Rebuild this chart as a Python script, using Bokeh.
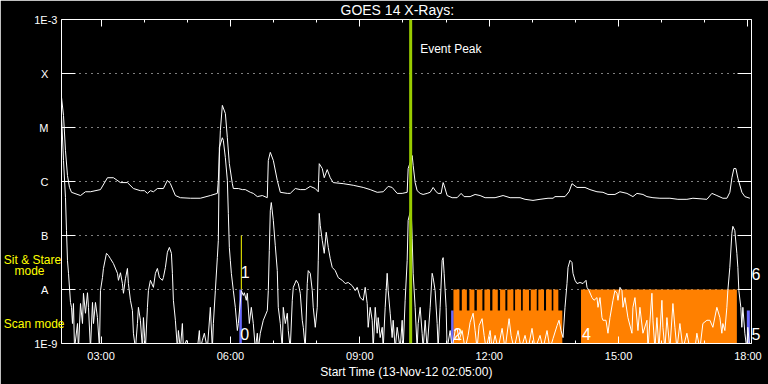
from bokeh.plotting import figure
from bokeh.models import (Range1d, LinearAxis, FixedTicker, Span, Label, LabelSet,
                          ColumnDataSource, CustomJSTickFormatter)
from bokeh.core.properties import value
from bokeh.embed import file_html
from bokeh.resources import INLINE

# ---------------- data ----------------
# time in hours UT (13-Nov-2012), flux as log10(W/m^2)
t_start = 2 + 5 / 60
t_end = 18 + 5 / 60

decade_vals = [-9, -8, -7, -6, -5, -4, -3]
decade_text = ["1E-9", "A", "B", "C", "M", "X", "1E-3"]
grid_vals = [-8, -7, -6, -5, -4]

hour_ticks = [3, 6, 9, 12, 15, 18]
hour_text = ["03:00", "06:00", "09:00", "12:00", "15:00", "18:00"]
minor_hours = list(range(3, 19))

# GOES long channel (1-8 A)
long_t = [2.083, 2.130, 2.176, 2.222, 2.269, 2.315, 2.524, 2.639, 2.755, 2.987,
          3.149, 3.288, 3.450, 3.612, 3.751, 3.913, 4.006, 4.076, 4.145, 4.215,
          4.307, 4.446, 4.539, 4.608, 4.724, 4.840, 5.072, 5.303, 5.535, 5.697,
          5.720, 5.767, 5.813, 5.883, 5.929, 5.975, 6.045, 6.068, 6.184, 6.276,
          6.346, 6.462, 6.531, 6.624, 6.740, 6.855, 6.879, 6.925, 6.995, 7.087,
          7.157, 7.319, 7.388, 7.504, 7.620, 7.736, 7.851, 7.967, 8.037, 8.060,
          8.130, 8.176, 8.245, 8.315, 8.384, 8.616, 8.848, 9.079, 9.242, 9.404,
          9.543, 9.659, 9.751, 9.867, 9.983, 10.099, 10.122, 10.168, 10.215, 10.238,
          10.284, 10.330, 10.400, 10.469, 10.562, 10.632, 10.701, 10.770, 10.817, 10.886,
          10.933, 10.956, 11.025, 11.141, 11.257, 11.350, 11.419, 11.558, 11.674, 11.790,
          11.906, 12.137, 12.323, 12.485, 12.716, 12.832, 13.017, 13.180, 13.365, 13.481,
          13.527, 13.759, 13.852, 13.921, 14.037, 14.222, 14.338, 14.500, 14.639, 14.755,
          14.917, 15.033, 15.195, 15.334, 15.427, 15.566, 15.659, 15.798, 15.960, 16.192,
          16.377, 16.586, 16.725, 17.049, 17.165, 17.281, 17.420, 17.513, 17.582, 17.629,
          17.675, 17.721, 17.768, 17.860, 17.930, 18.046]
long_f = [-4.44, -4.78, -5.43, -5.89, -6.11, -6.20, -6.26, -6.19, -6.19, -6.15,
          -5.93, -5.93, -6.02, -6.02, -6.13, -6.17, -6.17, -6.22, -6.17, -6.19,
          -6.13, -6.13, -5.98, -6.04, -6.26, -6.30, -6.31, -6.31, -6.26, -6.22,
          -5.98, -5.06, -4.59, -4.74, -5.19, -5.67, -6.04, -6.13, -6.13, -6.15,
          -6.15, -6.20, -6.22, -6.28, -6.26, -6.30, -5.61, -5.46, -5.61, -5.98,
          -6.20, -6.22, -6.22, -6.13, -6.15, -6.15, -6.09, -6.13, -6.19, -5.67,
          -5.76, -5.93, -5.78, -5.93, -6.02, -6.04, -6.07, -6.11, -6.15, -6.20,
          -6.19, -6.09, -6.11, -6.22, -6.22, -6.20, -5.76, -5.65, -5.52, -5.70,
          -6.02, -6.17, -6.22, -6.24, -6.22, -6.20, -6.11, -6.19, -6.22, -6.22,
          -6.02, -6.07, -6.26, -6.30, -6.30, -6.22, -6.28, -6.28, -6.24, -6.26,
          -6.30, -6.30, -6.26, -6.30, -6.30, -6.33, -6.35, -6.33, -6.31, -6.31,
          -6.28, -6.28, -6.19, -6.04, -6.11, -6.11, -6.15, -6.19, -6.20, -6.24,
          -6.24, -6.19, -6.22, -6.28, -6.22, -6.24, -6.28, -6.30, -6.31, -6.31,
          -6.33, -6.33, -6.31, -6.33, -6.22, -6.26, -6.31, -6.31, -6.20, -5.93,
          -5.76, -5.76, -5.94, -6.20, -6.28, -6.31]

# GOES short channel (0.5-4 A); values below 1E-9 fall off the bottom of the plot
short_t = [2.083, 2.130, 2.176, 2.199, 2.222, 2.246, 2.292, 2.315, 2.338, 2.361,
           2.385, 2.454, 2.477, 2.524, 2.570, 2.593, 2.639, 2.686, 2.709, 2.755,
           2.802, 2.825, 2.871, 2.917, 2.964, 2.987, 3.033, 3.056, 3.126, 3.172,
           3.219, 3.288, 3.381, 3.404, 3.450, 3.496, 3.520, 3.566, 3.612, 3.635,
           3.682, 3.728, 3.751, 3.798, 3.844, 3.867, 3.913, 3.960, 3.983, 4.029,
           4.076, 4.099, 4.145, 4.215, 4.261, 4.307, 4.354, 4.423, 4.446, 4.493,
           4.539, 4.585, 4.632, 4.655, 4.678, 4.724, 4.771, 4.794, 4.840, 4.886,
           4.910, 4.979, 5.072, 5.234, 5.280, 5.303, 5.350, 5.396, 5.466, 5.535,
           5.581, 5.605, 5.651, 5.697, 5.720, 5.744, 5.813, 5.836, 5.883, 5.929,
           5.952, 5.975, 5.998, 6.022, 6.068, 6.114, 6.161, 6.184, 6.253, 6.300,
           6.323, 6.369, 6.392, 6.439, 6.485, 6.531, 6.578, 6.624, 6.647, 6.693,
           6.763, 6.856, 6.879, 6.902, 6.925, 6.948, 6.995, 7.041, 7.087, 7.110,
           7.157, 7.203, 7.226, 7.273, 7.319, 7.342, 7.388, 7.435, 7.458, 7.527,
           7.574, 7.620, 7.666, 7.690, 7.736, 7.782, 7.805, 7.852, 7.898, 7.921,
           7.968, 8.014, 8.037, 8.060, 8.083, 8.130, 8.176, 8.222, 8.269, 8.315,
           8.361, 8.431, 8.500, 8.593, 8.663, 8.732, 8.825, 8.894, 8.940, 9.010,
           9.080, 9.126, 9.172, 9.195, 9.242, 9.288, 9.311, 9.358, 9.404, 9.427,
           9.473, 9.520, 9.543, 9.589, 9.635, 9.659, 9.705, 9.751, 9.774, 9.821,
           9.867, 9.937, 9.983, 10.006, 10.052, 10.099, 10.122, 10.191, 10.215, 10.238,
           10.284, 10.330, 10.354, 10.400, 10.446, 10.469, 10.516, 10.562, 10.632, 10.678,
           10.701, 10.747, 10.794, 10.817, 10.863, 10.910, 10.933, 10.956, 11.002, 11.025,
           11.095, 11.141, 11.211, 11.257, 11.303, 11.373, 11.442, 11.512, 11.558, 11.628,
           11.674, 11.720, 11.767, 11.836, 11.883, 11.929, 12.022, 12.068, 12.137, 12.207,
           12.300, 12.369, 12.462, 12.508, 12.578, 12.670, 12.740, 12.832, 12.902, 12.994,
           13.064, 13.180, 13.249, 13.342, 13.411, 13.481, 13.574, 13.620, 13.666, 13.713,
           13.759, 13.805, 13.829, 13.875, 13.921, 13.944, 13.991, 14.037, 14.107, 14.176,
           14.246, 14.269, 14.315, 14.385, 14.431, 14.500, 14.524, 14.570, 14.616, 14.639,
           14.709, 14.755, 14.802, 14.871, 14.917, 14.964, 14.987, 15.033, 15.080, 15.103,
           15.149, 15.218, 15.311, 15.334, 15.381, 15.450, 15.496, 15.566, 15.659, 15.682,
           15.774, 15.798, 15.844, 15.890, 15.937, 16.006, 16.029, 16.076, 16.122, 16.191,
           16.261, 16.307, 16.354, 16.423, 16.493, 16.585, 16.655, 16.771, 16.817, 16.886,
           16.956, 17.049, 17.118, 17.188, 17.280, 17.350, 17.396, 17.419, 17.466, 17.512,
           17.535, 17.581, 17.628, 17.651, 17.697, 17.744, 17.767, 17.790, 17.836, 17.859,
           17.883, 17.929, 17.975, 17.998, 18.045]
short_f = [-4.78, -5.61, -6.30, -6.91, -7.46, -7.70, -8.24, -8.33, -8.63, -8.26,
           -9.1, -8.63, -9.1, -8.26, -8.63, -8.07, -8.44, -8.06, -8.33, -9.1,
           -8.24, -8.63, -8.24, -8.52, -9.1, -8.02, -7.78, -7.61, -7.33, -7.37,
           -7.43, -7.52, -7.70, -7.83, -7.69, -7.89, -8.07, -7.80, -7.61, -7.89,
           -8.20, -8.39, -8.81, -9.1, -8.63, -8.33, -8.57, -9.1, -8.52, -9.1,
           -8.33, -8.02, -7.83, -7.96, -7.70, -7.61, -7.78, -7.83, -7.78, -7.59,
           -7.31, -7.22, -7.33, -7.70, -8.20, -8.57, -9.1, -8.76, -9.1, -8.63,
           -9.1, -8.94, -9.1, -9.1, -8.76, -9.1, -8.94, -8.81, -9.1, -8.33,
           -9.1, -8.63, -8.02, -7.41, -7.09, -5.37, -5.19, -5.24, -5.56, -5.98,
           -6.59, -7.22, -7.46, -7.70, -8.02, -8.33, -8.76, -8.63, -8.02, -8.11,
           -8.06, -8.20, -8.07, -8.63, -8.33, -8.63, -9.1, -8.81, -9.1, -8.81,
           -8.57, -8.39, -8.02, -7.28, -6.54, -6.39, -6.72, -7.19, -7.65, -8.33,
           -8.63, -9.1, -8.33, -8.63, -8.44, -8.76, -9.1, -8.20, -7.96, -7.83,
           -7.89, -8.07, -8.57, -8.70, -9.1, -7.89, -7.65, -7.70, -8.02, -8.33,
           -8.70, -8.33, -7.46, -6.59, -6.81, -7.09, -7.33, -6.94, -7.22, -7.43,
           -7.59, -7.65, -7.78, -7.83, -7.89, -7.87, -7.93, -8.02, -7.96, -8.15,
           -8.20, -7.96, -8.26, -8.70, -8.33, -8.57, -9.1, -8.33, -8.81, -8.52,
           -8.89, -8.70, -9.1, -8.33, -7.70, -8.02, -8.44, -8.89, -8.57, -9.1,
           -8.70, -9.1, -8.57, -9.1, -8.20, -7.46, -6.72, -6.50, -7.06, -7.70,
           -8.33, -9.1, -8.63, -8.33, -8.81, -9.1, -8.57, -9.1, -8.33, -7.70,
           -7.78, -8.02, -8.63, -9.1, -8.33, -7.46, -7.41, -7.70, -8.33, -9.1,
           -8.76, -9.1, -8.76, -8.72, -8.94, -8.76, -9.1, -8.85, -8.61, -8.44,
           -8.76, -9.1, -8.67, -8.54, -8.85, -9.1, -8.76, -9.1, -8.85, -9.1,
           -8.72, -9.1, -8.54, -8.85, -9.1, -8.76, -9.1, -8.85, -9.1, -8.72,
           -9.1, -8.85, -9.1, -8.76, -9.1, -8.91, -8.67, -8.57, -8.76, -8.89,
           -8.33, -7.89, -7.59, -7.46, -7.50, -7.70, -7.83, -7.89, -7.87, -7.89,
           -7.83, -7.96, -8.02, -8.15, -8.20, -8.15, -8.33, -8.15, -8.52, -8.57,
           -8.57, -8.81, -8.52, -8.20, -8.02, -8.07, -8.20, -7.96, -8.02, -8.33,
           -8.15, -8.52, -8.81, -8.33, -8.15, -8.76, -8.33, -8.81, -8.57, -9.1,
           -8.07, -8.57, -9.1, -8.52, -9.1, -8.20, -8.70, -9.1, -8.52, -9.1,
           -8.26, -8.70, -9.1, -8.63, -9.1, -8.81, -9.1, -9.1, -8.81, -9.1,
           -8.63, -8.57, -8.57, -8.70, -8.33, -8.52, -8.81, -8.63, -8.76, -8.33,
           -8.02, -7.59, -6.96, -6.83, -6.91, -7.33, -7.59, -8.02, -8.33, -8.70,
           -8.33, -8.81, -9.1, -8.70, -9.1]

event_peak_t = 10.18
flag_t = 6.253
flag_lo, flag_hi = -8.0, -7.0

scan_level = -8.39
stare_level = -8.0
bar_floor = -9.5

# short observations (blue)
blue_start = [6.207, 11.118, 17.975]
blue_end = [6.265, 11.172, 18.045]
blue_top = [stare_level, scan_level, scan_level]

# long observations (orange): scan block, sit & stare comb teeth, sit & stare block
orange_start = [11.172, 11.172, 11.366, 11.542, 11.714, 11.890, 12.075, 12.253,
                12.422, 12.601, 12.779, 12.964, 13.140, 13.319, 13.488, 14.130]
orange_end = [13.697, 11.311, 11.483, 11.658, 11.843, 12.022, 12.200, 12.376,
              12.562, 12.740, 12.925, 13.103, 13.272, 13.451, 13.604, 17.744]
orange_top = [scan_level] + [stare_level] * 14 + [stare_level]

obs_text = ["0", "1", "2", "4"]
obs_text_t = [6.23, 6.24, 11.165, 14.155]
obs_text_f = [-8.93, -7.78, -8.93, -8.93]
edge_obs_text = ["5", "6"]

mode_text = ["Sit & Stare", "mode", "Scan mode"]

# ---------------- layout helpers (text placement only) ----------------
FL, FR, FT, FB = 61, 751, 19, 343


def ly(py):
    return -9 + (FB - py) * 6.0 / (FB - FT)


FONT = "Liberation Sans"
NB = "\u00a0"

p = figure(width=768, height=384, x_range=Range1d(t_start, t_end), y_range=Range1d(-9, -3),
           output_backend="svg", toolbar_location=None,
           background_fill_color="black", border_fill_color="black",
           outline_line_color=None,
           min_border_left=FL, min_border_right=768 - FR, min_border_top=FT,
           min_border_bottom=384 - FB)

p.title.text = "GOES 14 X-Rays:"
p.title.align = "left"
p.title.offset = 279
p.title.vertical_align = "top"
p.title.text_color = "white"
p.title.text_font = FONT
p.title.text_font_size = "14px"
p.title.text_font_style = "normal"
if "standoff" in p.title.properties():
    p.title.standoff = 0


def blank():
    return CustomJSTickFormatter(code="return ''")


# bottom axis
bx = p.xaxis[0]
bx.ticker = FixedTicker(ticks=hour_ticks, minor_ticks=minor_hours)
bx.major_label_overrides = dict(zip(hour_ticks, hour_text))
bx.major_label_standoff = 6
bx.axis_label = "Start Time (13-Nov-12 02:05:00)"
bx.axis_label_standoff = 0
bx.axis_label_text_color = "white"
bx.axis_label_text_font = FONT
bx.axis_label_text_font_size = "12px"
bx.axis_label_text_font_style = "normal"

# left axis: decade ticks with flux-class labels
lyx = p.yaxis[0]
lyx.ticker = FixedTicker(ticks=decade_vals, minor_ticks=[])
lyx.major_label_overrides = {v: (t if t.startswith("1E") else t + NB * 3)
                             for v, t in zip(decade_vals, decade_text)}
lyx.major_label_standoff = 4

# top and right axes: ticks only
tx = LinearAxis(ticker=FixedTicker(ticks=hour_ticks, minor_ticks=minor_hours), formatter=blank())
ry = LinearAxis(ticker=FixedTicker(ticks=decade_vals, minor_ticks=[]), formatter=blank())
p.add_layout(tx, "above")
p.add_layout(ry, "right")

for ax in (bx, tx):
    ax.major_tick_in = 7
    ax.major_tick_out = 0
    ax.minor_tick_in = 3
    ax.minor_tick_out = 0
    ax.minor_tick_line_color = "white"
for ax in (lyx, ry):
    ax.major_tick_in = 14
    ax.major_tick_out = 0
    ax.minor_tick_line_color = None
for ax in (bx, tx, lyx, ry):
    ax.axis_line_color = "white"
    ax.major_tick_line_color = "white"
    ax.major_label_text_color = "white"
    ax.major_label_text_font = FONT
    ax.major_label_text_font_size = "11px"
for ax in (tx, ry):
    ax.major_label_text_font_size = "0px"
    ax.major_label_standoff = 0

# yellow mode labels, second left axis (labels only)
mode_y = [ly(259), ly(270), ly(323)]
mode_pad = [1, 6, 0]
ym = LinearAxis(ticker=FixedTicker(ticks=mode_y, minor_ticks=[]),
                major_label_overrides={v: t + NB * n for v, t, n in zip(mode_y, mode_text, mode_pad)},
                axis_line_color=None, major_tick_line_color=None, minor_tick_line_color=None,
                major_tick_in=0, major_tick_out=0, minor_tick_in=0, minor_tick_out=0,
                major_label_standoff=-33, major_label_text_color="#ffff00",
                major_label_text_font=FONT, major_label_text_font_size="12px")
p.add_layout(ym, "left")

# observation numbers on the right edge, second right axis (labels only)
edge_y = [ly(333), ly(273)]
re = LinearAxis(ticker=FixedTicker(ticks=edge_y, minor_ticks=[]),
                major_label_overrides=dict(zip(edge_y, edge_obs_text)),
                axis_line_color=None, major_tick_line_color=None, minor_tick_line_color=None,
                major_tick_in=0, major_tick_out=0, minor_tick_in=0, minor_tick_out=0,
                major_label_standoff=0, major_label_text_color="white",
                major_label_text_font=FONT, major_label_text_font_size="16px")
p.add_layout(re, "right")

p.xgrid.visible = False
p.ygrid[0].ticker = FixedTicker(ticks=grid_vals)
p.ygrid.grid_line_color = "white"
p.ygrid.grid_line_dash = "1 5"
p.ygrid.grid_line_width = 1

# observation bars
p.quad(left=orange_start, right=orange_end, bottom=bar_floor, top=orange_top,
       fill_color="#ff8000", line_color=None)
p.quad(left=blue_start, right=blue_end, bottom=bar_floor, top=blue_top,
       fill_color="#6a6aff", line_color=None)
p.segment(x0=[flag_t], y0=[flag_lo], x1=[flag_t], y1=[flag_hi],
          line_color="#ffff00", line_width=1)

# GOES curves
p.line(long_t, long_f, line_color="white", line_width=1)
p.line(short_t, short_f, line_color="white", line_width=1)

p.add_layout(Span(location=event_peak_t, dimension="height",
                  line_color="#99cc00", line_width=3))

# texts inside the frame
p.add_layout(LabelSet(x="x", y="y", text="text",
                      source=ColumnDataSource(dict(x=obs_text_t, y=obs_text_f, text=obs_text)),
                      text_align="left", text_baseline="alphabetic",
                      text_color="white", text_font=value(FONT), text_font_size="16px"))
p.add_layout(Label(x=10.40, y=ly(48), text="Event Peak", text_color="white",
                   text_font=FONT, text_font_size="12px", text_baseline="alphabetic"))

open("out.html", "w").write(file_html(p, INLINE))
